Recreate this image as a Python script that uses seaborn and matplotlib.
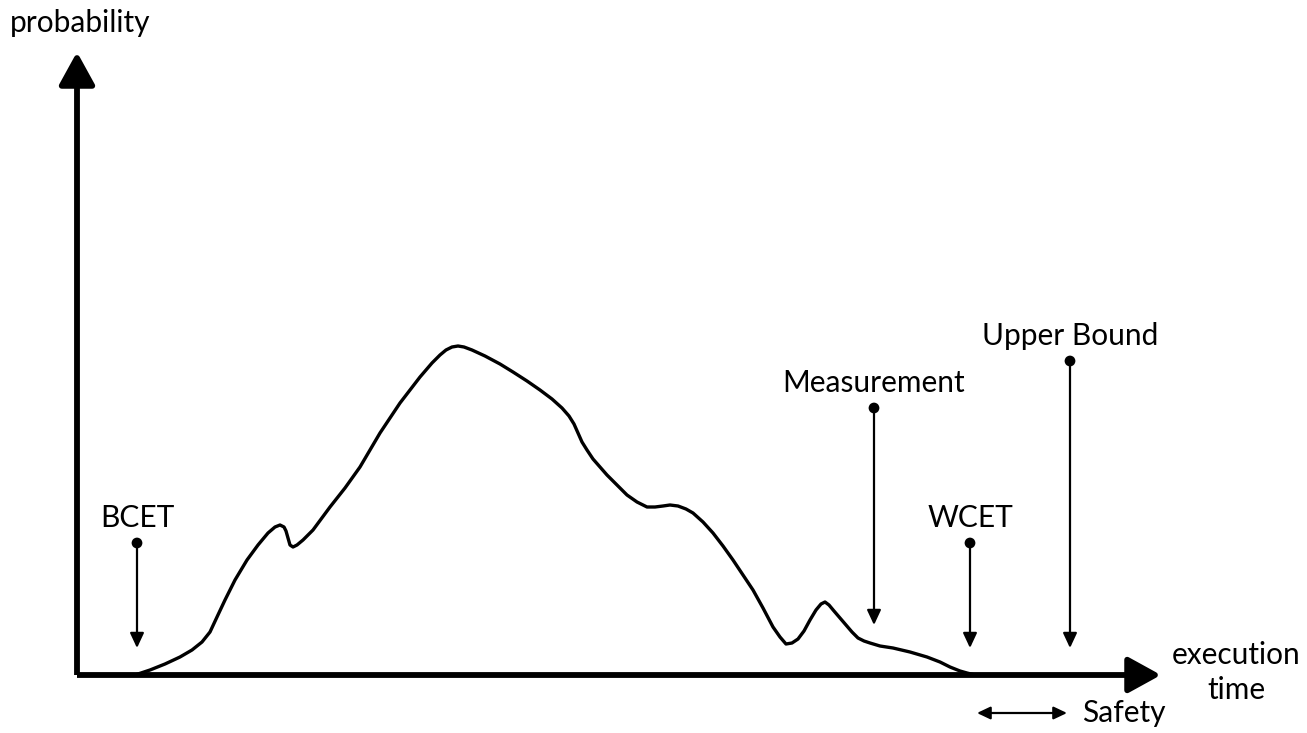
import matplotlib
matplotlib.use("Agg")
import matplotlib.pyplot as plt
import seaborn as sns
import pandas as pd
from matplotlib.patches import ArrowStyle

# ---- data (x: execution time units, y: probability units; axis origin at (77, 0)) ----
curve_x = [135, 150, 165, 180, 192, 202, 210, 217, 225, 235,
           247, 258, 268, 275, 280, 284, 286, 288, 290, 293,
           297, 303, 313, 330, 345, 360, 380, 400, 420, 432,
           440, 446, 452, 458, 464, 472, 485, 500, 513, 527,
           540, 552, 562, 569, 574, 578, 582, 587, 593, 600,
           607, 617, 627, 637, 647, 655, 663, 670, 678, 686,
           693, 703, 713, 723, 733, 743, 753, 763, 773, 780,
           786, 792, 798, 804, 810, 816, 821, 825, 829, 834,
           840, 846, 852, 858, 864, 870, 880, 893, 910, 927,
           940, 950, 960, 967, 975]
curve_y = [0, 5, 11, 18, 25, 33, 43, 58, 75, 95,
           115, 130, 142, 148, 150, 148, 144, 137, 130, 128,
           130, 135, 145, 168, 187, 208, 242, 272, 298, 312,
           320, 325, 328, 329, 328, 325, 319, 311, 303, 294,
           285, 276, 267, 259, 251, 242, 233, 225, 216, 208,
           200, 190, 180, 173, 168, 168, 169, 170, 169, 166,
           162, 153, 142, 129, 115, 100, 85, 67, 48, 38,
           31, 32, 36, 44, 55, 65, 71, 73, 70, 64,
           57, 50, 43, 37, 34, 32, 29, 27, 23, 18,
           13, 8, 4, 2, 0]

marker_labels = ["BCET", "Measurement", "WCET", "Upper Bound"]
marker_x = [137, 874, 970, 1070]
marker_top = [132, 267, 132, 314]
marker_tip = [27, 50, 27, 27]

safety_range = [977, 1067]
axis_origin = (77, 0)
x_axis_end = 1161
y_axis_end = 623

y_label = "probability"
x_label = ["execution", "time"]
safety_label = "Safety"

# ---- figure ----
sns.set_theme(style="white")
plt.rcParams["font.family"] = ["Lato", "DejaVu Sans"]
FS = 21.5

fig = plt.figure(figsize=(13.07, 7.33), dpi=100)
ax = fig.add_axes([0, 0, 1, 1])
ax.set_xlim(0, 1307)
ax.set_ylim(-58, 675)
ax.axis("off")

# axes arrows
big_head = ArrowStyle("-|>", head_length=2.0, head_width=1.1)
for end in [(x_axis_end, 0), (axis_origin[0], y_axis_end)]:
    ax.annotate("", xy=end, xytext=axis_origin,
                arrowprops=dict(arrowstyle=big_head, lw=4.2, color="black",
                                shrinkA=0, shrinkB=0, mutation_scale=10,
                                capstyle="butt"))

# distribution curve
df = pd.DataFrame({"t": curve_x, "p": curve_y})
sns.lineplot(data=df, x="t", y="p", sort=False, ax=ax, color="black", lw=2.4,
             solid_joinstyle="round", solid_capstyle="round")

# annotation arrows
small_head = ArrowStyle("-|>", head_length=0.9, head_width=0.42)
for lab, x, top, tip in zip(marker_labels, marker_x, marker_top, marker_tip):
    ax.annotate("", xy=(x, tip), xytext=(x, top),
                arrowprops=dict(arrowstyle=small_head, lw=1.6, color="black",
                                shrinkA=0, shrinkB=0, mutation_scale=10))
    ax.text(x, top + 25, lab, ha="center", va="center", fontsize=FS, color="black")

mdf = pd.DataFrame({"x": marker_x, "y": marker_top})
sns.scatterplot(data=mdf, x="x", y="y", ax=ax, color="black", s=60,
                edgecolor="none", zorder=5)

# safety double arrow
dbl = ArrowStyle("<|-|>", head_length=0.8, head_width=0.38)
ax.annotate("", xy=(safety_range[1], -38), xytext=(safety_range[0], -38),
            arrowprops=dict(arrowstyle=dbl, lw=1.6, color="black",
                            shrinkA=0, shrinkB=0, mutation_scale=10))
ax.text(1082, -38, safety_label, ha="left", va="center", fontsize=FS, color="black")

# axis labels
ax.text(10, 652, y_label, ha="left", va="center", fontsize=FS, color="black")
ax.text(1236, 20, x_label[0], ha="center", va="center", fontsize=FS, color="black")
ax.text(1236, -15, x_label[1], ha="center", va="center", fontsize=FS, color="black")

fig.savefig("out.png", dpi=100, facecolor="white")
